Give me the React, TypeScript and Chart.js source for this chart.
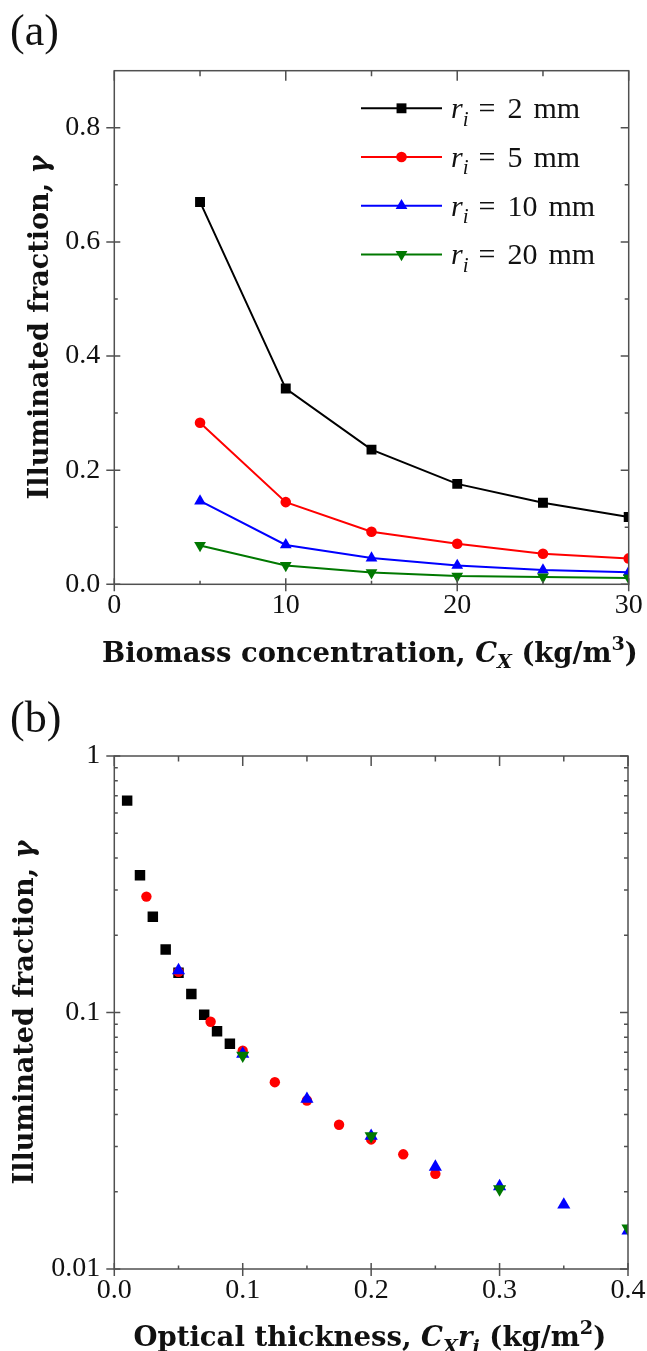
import React, { useEffect, useRef } from "react";
import { Chart, registerables } from "chart.js";

Chart.register(...registerables);

// Biomass concentrations C_X (kg/m³) evaluated for every cell radius
const biomass = [5, 10, 15, 20, 25, 30, 35, 40, 45, 50];
// Cell radii r_i (mm)
const radii = [2, 5, 10, 20];
// Illuminated fraction γ per radius, listed in the order of `biomass`
const gammaR2 = [0.67, 0.343, 0.236, 0.176, 0.143, 0.118, 0.098, 0.0845, 0.0755];
const gammaR5 = [0.283, 0.144, 0.092, 0.071, 0.0535, 0.0454, 0.0365, 0.032, 0.028, 0.0235];
const gammaR10 = [0.146, 0.069, 0.046, 0.033, 0.025, 0.021, 0.0178, 0.0141];
const gammaR20 = [0.068, 0.033, 0.0205, 0.0144, 0.0128, 0.011];
const gammaSeries = [gammaR2, gammaR5, gammaR10, gammaR20];

// Axis ticks, panel (a)
const ticksXA = [0, 10, 20, 30];
const labelsXA = ["0", "10", "20", "30"];
const minorXA = [5, 15, 25];
const ticksYA = [0, 0.2, 0.4, 0.6, 0.8];
const labelsYA = ["0.0", "0.2", "0.4", "0.6", "0.8"];
const minorYA = [0.1, 0.3, 0.5, 0.7];

// Axis ticks, panel (b)
const ticksXB = [0, 0.1, 0.2, 0.3, 0.4];
const labelsXB = ["0.0", "0.1", "0.2", "0.3", "0.4"];
const minorXB = [0.05, 0.15, 0.25, 0.35];
const ticksYB = [0.01, 0.1, 1];
const labelsYB = ["0.01", "0.1", "1"];
const minorYB = [0.02, 0.03, 0.04, 0.05, 0.06, 0.07, 0.08, 0.09, 0.2, 0.3, 0.4, 0.5, 0.6, 0.7, 0.8, 0.9];

// Series appearance
const seriesColors = ["#000000", "#ff0000", "#0000ff", "#007800"];
const seriesShapes = ["rect", "circle", "triangle", "triangle"];
const seriesRotation = [0, 0, 0, 180];
const markerSizeA = [7.0, 5.3, 6.8, 6.8];
const markerSizeB = [7.4, 5.2, 7.6, 7.6];

const FRAME = "#505050";
const TEXT = "#111111";
const SERIF = "Liberation Serif";
const TITLE_SERIF = "DejaVu Serif";

type Run = { t: string; it?: boolean; pos?: "sub" | "sup"; dx?: number };

function runFont(run: Run, size: number, family: string, bold: boolean) {
  const s = run.pos ? size * 0.7 : size;
  return `${run.it ? "italic " : ""}${bold ? "bold " : ""}${s}px "${family}"`;
}

function runsWidth(ctx: CanvasRenderingContext2D, runs: Run[], size: number, family: string, bold: boolean) {
  let w = 0;
  for (const r of runs) {
    ctx.font = runFont(r, size, family, bold);
    w += ctx.measureText(r.t).width + (r.dx || 0);
  }
  return w;
}

function drawRuns(
  ctx: CanvasRenderingContext2D,
  runs: Run[],
  x: number,
  y: number,
  size: number,
  family: string,
  bold: boolean
) {
  ctx.fillStyle = TEXT;
  ctx.textAlign = "left";
  ctx.textBaseline = "alphabetic";
  let cx = x;
  for (const r of runs) {
    ctx.font = runFont(r, size, family, bold);
    const dy = r.pos === "sub" ? size * 0.24 : r.pos === "sup" ? -size * 0.42 : 0;
    if (r.t) ctx.fillText(r.t, cx, y + dy);
    cx += ctx.measureText(r.t).width + (r.dx || 0);
  }
}

// Draws a bold title sized so that it spans `span` pixels, centred at `mid` along its direction
function drawFittedTitle(
  ctx: CanvasRenderingContext2D,
  runs: Run[],
  mid: number,
  baseline: number,
  span: number,
  vertical: boolean
) {
  const size = (30 * span) / runsWidth(ctx, runs, 30, TITLE_SERIF, true);
  ctx.save();
  if (vertical) {
    ctx.translate(baseline, mid);
    ctx.rotate(-Math.PI / 2);
    drawRuns(ctx, runs, -span / 2, 0, size, TITLE_SERIF, true);
  } else {
    drawRuns(ctx, runs, mid - span / 2, baseline, size, TITLE_SERIF, true);
  }
  ctx.restore();
}

function drawMarker(ctx: CanvasRenderingContext2D, shape: string, rotation: number, x: number, y: number, r: number, color: string) {
  ctx.save();
  ctx.fillStyle = color;
  ctx.beginPath();
  if (shape === "rect") {
    const h = Math.SQRT1_2 * r;
    ctx.rect(x - h, y - h, 2 * h, 2 * h);
  } else if (shape === "circle") {
    ctx.arc(x, y, r, 0, Math.PI * 2);
  } else {
    let rad = (rotation * Math.PI) / 180;
    ctx.moveTo(x + Math.sin(rad) * r, y - Math.cos(rad) * r);
    rad += (2 * Math.PI) / 3;
    ctx.lineTo(x + Math.sin(rad) * r, y - Math.cos(rad) * r);
    rad += (2 * Math.PI) / 3;
    ctx.lineTo(x + Math.sin(rad) * r, y - Math.cos(rad) * r);
    ctx.closePath();
  }
  ctx.fill();
  ctx.restore();
}

const yTitleRuns: Run[] = [{ t: "Illuminated fraction, " }, { t: "γ", it: true }];
const xTitleRunsA: Run[] = [
  { t: "Biomass concentration, " },
  { t: "C", it: true },
  { t: "X", it: true, pos: "sub" },
  { t: " (kg/m" },
  { t: "3", pos: "sup" },
  { t: ")" },
];
const xTitleRunsB: Run[] = [
  { t: "Optical thickness, " },
  { t: "C", it: true },
  { t: "X", it: true, pos: "sub" },
  { t: "r", it: true },
  { t: "i", it: true, pos: "sub" },
  { t: " (kg/m" },
  { t: "2", pos: "sup" },
  { t: ")" },
];

interface PanelSpec {
  tag: string;
  tagBaseline: number;
  xTitle: Run[];
  xTitleSpan: number;
  xTitleBaseline: number;
  yTitleX: number;
  xMajor: number[];
  xMinor: number[];
  yMajor: number[];
  yMinor: number[];
  legend: boolean;
}

function panelPlugin(spec: PanelSpec) {
  return {
    id: "panelDecor",
    afterDraw(chart: any) {
      const ctx: CanvasRenderingContext2D = chart.ctx;
      const { left, right, top, bottom } = chart.chartArea;
      const xs = chart.scales.x;
      const ys = chart.scales.y;
      ctx.save();
      ctx.strokeStyle = FRAME;
      ctx.lineWidth = 1.5;
      ctx.strokeRect(left, top, right - left, bottom - top);
      ctx.beginPath();
      for (const v of spec.xMajor) {
        const p = xs.getPixelForValue(v);
        ctx.moveTo(p, bottom - 6);
        ctx.lineTo(p, bottom + 7);
        ctx.moveTo(p, top);
        ctx.lineTo(p, top + 10);
      }
      for (const v of spec.xMinor) {
        const p = xs.getPixelForValue(v);
        ctx.moveTo(p, bottom - 3.5);
        ctx.lineTo(p, bottom);
        ctx.moveTo(p, top);
        ctx.lineTo(p, top + 5.5);
      }
      for (const v of spec.yMajor) {
        const p = ys.getPixelForValue(v);
        ctx.moveTo(left - 8, p);
        ctx.lineTo(left + 6, p);
        ctx.moveTo(right - 8, p);
        ctx.lineTo(right, p);
      }
      for (const v of spec.yMinor) {
        const p = ys.getPixelForValue(v);
        ctx.moveTo(left, p);
        ctx.lineTo(left + 3.5, p);
        ctx.moveTo(right - 4, p);
        ctx.lineTo(right, p);
      }
      ctx.stroke();

      // Panel tag
      ctx.fillStyle = TEXT;
      ctx.font = `44px "${SERIF}"`;
      ctx.textAlign = "left";
      ctx.textBaseline = "alphabetic";
      ctx.fillText(spec.tag, 10, spec.tagBaseline);

      // Axis titles
      drawFittedTitle(ctx, spec.xTitle, 370, spec.xTitleBaseline, spec.xTitleSpan, false);
      drawFittedTitle(ctx, yTitleRuns, (top + bottom) / 2, spec.yTitleX, 344, true);

      // Legend
      if (spec.legend) {
        const rowY0 = 108.3;
        const rowGap = 48.7;
        radii.forEach((r, k) => {
          const y = rowY0 + k * rowGap;
          ctx.strokeStyle = seriesColors[k];
          ctx.lineWidth = 2;
          ctx.beginPath();
          ctx.moveTo(361, y);
          ctx.lineTo(442, y);
          ctx.stroke();
          drawMarker(ctx, seriesShapes[k], seriesRotation[k], 401.5, y, markerSizeA[k], seriesColors[k]);
          const runs: Run[] = [
            { t: "r", it: true },
            { t: "i", it: true, pos: "sub", dx: 10 },
            { t: "=", dx: 12 },
            { t: String(r), dx: 11 },
            { t: "mm" },
          ];
          drawRuns(ctx, runs, 451, y + 10, 30, SERIF, false);
        });
      }
      ctx.restore();
    },
  };
}

function datasets(panel: "a" | "b") {
  return radii.map((r, k) => ({
    label: `r_i = ${r} mm`,
    data: gammaSeries[k].map((g, i) => ({
      x: panel === "a" ? biomass[i] : (biomass[i] * r) / 1000,
      y: g,
    })),
    showLine: panel === "a",
    borderColor: seriesColors[k],
    backgroundColor: seriesColors[k],
    pointBackgroundColor: seriesColors[k],
    pointBorderWidth: 0,
    borderWidth: 2,
    pointStyle: seriesShapes[k],
    pointRotation: seriesRotation[k],
    pointRadius: panel === "a" ? markerSizeA[k] : markerSizeB[k],
    pointHoverRadius: panel === "a" ? markerSizeA[k] : markerSizeB[k],
    clip: 0,
    order: radii.length - k,
  }));
}

function axis(
  type: string,
  min: number,
  max: number,
  ticks: number[],
  labels: string[],
  horizontal: boolean,
  size: number
) {
  return {
    type,
    min,
    max,
    grid: { display: false, drawTicks: false },
    border: { display: false },
    ticks: {
      autoSkip: false,
      maxRotation: 0,
      minRotation: 0,
      padding: horizontal ? 4.5 : 14,
      color: TEXT,
      font: { family: `"${SERIF}", serif`, size: 28 },
      callback: (_v: any, i: number) => labels[i],
    },
    afterBuildTicks: (s: any) => {
      s.ticks = ticks.map((v) => ({ value: v }));
    },
    afterFit: (s: any) => {
      if (horizontal) s.height = size;
      else s.width = size;
      s.paddingLeft = 0;
      s.paddingRight = 0;
      s.paddingTop = 0;
      s.paddingBottom = 0;
    },
  };
}

export default function App() {
  const refA = useRef<HTMLCanvasElement>(null);
  const refB = useRef<HTMLCanvasElement>(null);

  useEffect(() => {
    const chartA = new Chart(refA.current as HTMLCanvasElement, {
      type: "scatter",
      data: { datasets: datasets("a") as any },
      options: {
        animation: false,
        responsive: false,
        devicePixelRatio: 1,
        events: [],
        layout: { padding: { top: 70.7, right: 18.3, bottom: 0, left: 0 } },
        plugins: { legend: { display: false }, tooltip: { enabled: false } },
        scales: {
          x: axis("linear", 0, 30, ticksXA, labelsXA, true, 90.7) as any,
          y: axis("linear", 0, 0.9, ticksYA, labelsYA, false, 114.3) as any,
        },
      },
      plugins: [
        panelPlugin({
          tag: "(a)",
          tagBaseline: 45,
          xTitle: xTitleRunsA,
          xTitleSpan: 536,
          xTitleBaseline: 661.7,
          yTitleX: 48.3,
          xMajor: ticksXA,
          xMinor: minorXA,
          yMajor: ticksYA,
          yMinor: minorYA,
          legend: true,
        }),
      ],
    });

    const chartB = new Chart(refB.current as HTMLCanvasElement, {
      type: "scatter",
      data: { datasets: datasets("b") as any },
      options: {
        animation: false,
        responsive: false,
        devicePixelRatio: 1,
        events: [],
        layout: { padding: { top: 81, right: 19, bottom: 0, left: 0 } },
        plugins: { legend: { display: false }, tooltip: { enabled: false } },
        scales: {
          x: axis("linear", 0, 0.4, ticksXB, labelsXB, true, 82) as any,
          y: axis("logarithmic", 0.01, 1, ticksYB, labelsYB, false, 114.3) as any,
        },
      },
      plugins: [
        panelPlugin({
          tag: "(b)",
          tagBaseline: 57,
          xTitle: xTitleRunsB,
          xTitleSpan: 473,
          xTitleBaseline: 671,
          yTitleX: 33.3,
          xMajor: ticksXB,
          xMinor: minorXB,
          yMajor: ticksYB,
          yMinor: minorYB,
          legend: false,
        }),
      ],
    });

    return () => {
      chartA.destroy();
      chartB.destroy();
    };
  }, []);

  return (
    <div style={{ position: "absolute", left: 0, top: 0, width: 647, height: 1351, background: "#ffffff" }}>
      <canvas ref={refA} width={647} height={675} style={{ position: "absolute", left: 0, top: 0 }} />
      <canvas ref={refB} width={647} height={676} style={{ position: "absolute", left: 0, top: 675 }} />
    </div>
  );
}
